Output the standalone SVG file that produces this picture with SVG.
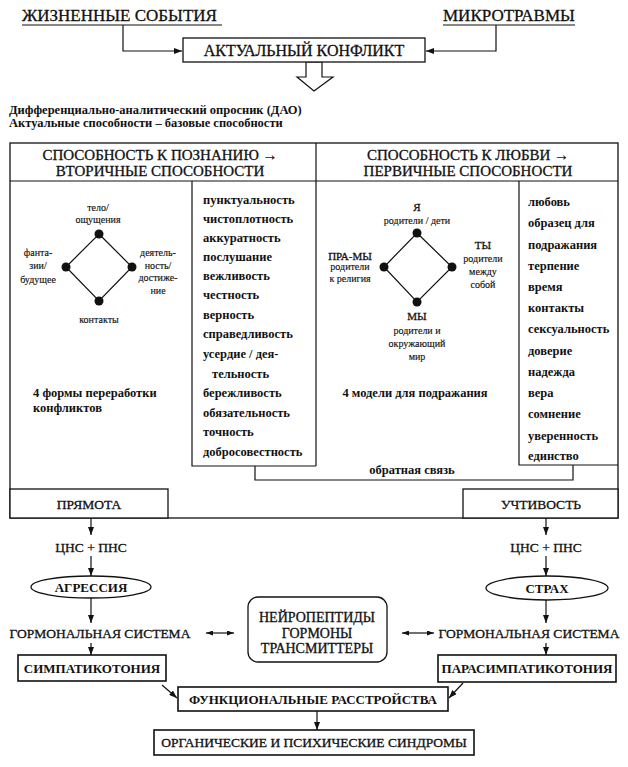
<svg xmlns="http://www.w3.org/2000/svg" width="628" height="767" viewBox="0 0 628 767" font-family="'Liberation Serif', 'DejaVu Serif', 'Times New Roman', serif">
<defs>
<style>
text{font-family:'Liberation Serif','DejaVu Serif','Times New Roman',serif;fill:#111;stroke:#111;stroke-width:0.3}
.c{text-anchor:middle}
.b{font-weight:bold;stroke-width:0}
.s{font-size:10px;stroke-width:0.15}
.m{font-size:12.5px}
.L{font-size:13.5px}
.h{font-size:15px}
.box{fill:#fff;stroke:#111;stroke-width:1.3}
.ln{fill:none;stroke:#111;stroke-width:1.2}
.dot{fill:#111}
</style>
<marker id="ah" viewBox="0 0 8 6" refX="8" refY="3" markerWidth="8" markerHeight="6" markerUnits="userSpaceOnUse" orient="auto">
<path d="M0,0 L8,3 L0,6 z" fill="#111"/>
</marker>
<marker id="ahs" viewBox="0 0 7 5" refX="7" refY="2.5" markerWidth="7" markerHeight="5" markerUnits="userSpaceOnUse" orient="auto-start-reverse">
<path d="M0,0 L7,2.5 L0,5 z" fill="#111"/>
</marker>
</defs>
<rect width="628" height="767" fill="#fff"/>

<g id="connectors">
<polyline class="ln" points="123,25 123,51 182,51" marker-end="url(#ah)"/>
<polyline class="ln" points="496,25 496,51 426,51" marker-end="url(#ah)"/>
<polygon points="306,62 322,62 322,77 333,77 314,91 297,77 306,77" fill="#fff" stroke="#111" stroke-width="1.2"/>
<polyline class="ln" points="255,466 255,480 573,480 573,465"/>
<line class="ln" x1="91" y1="518" x2="91" y2="535" marker-end="url(#ah)"/>
<line class="ln" x1="91" y1="556" x2="91" y2="576" marker-end="url(#ah)"/>
<line class="ln" x1="91" y1="598" x2="91" y2="623" marker-end="url(#ah)"/>
<line class="ln" x1="91" y1="643" x2="91" y2="655" marker-end="url(#ah)"/>
<line class="ln" x1="546" y1="518" x2="546" y2="535" marker-end="url(#ah)"/>
<line class="ln" x1="546" y1="556" x2="546" y2="576" marker-end="url(#ah)"/>
<line class="ln" x1="546" y1="600" x2="546" y2="623" marker-end="url(#ah)"/>
<line class="ln" x1="546" y1="643" x2="546" y2="655" marker-end="url(#ah)"/>
<line class="ln" x1="206" y1="633" x2="234" y2="633" marker-start="url(#ahs)" marker-end="url(#ahs)"/>
<line class="ln" x1="402" y1="633" x2="434" y2="633" marker-start="url(#ahs)" marker-end="url(#ahs)"/>
<line class="ln" x1="162" y1="685" x2="177" y2="698" marker-end="url(#ah)"/>
<line class="ln" x1="463" y1="683" x2="449" y2="698" marker-end="url(#ah)"/>
<line class="ln" x1="317" y1="711" x2="317" y2="730" marker-end="url(#ah)"/>
</g>

<g id="life-events">
<text x="22" y="21" style="font-size:17px">ЖИЗНЕННЫЕ СОБЫТИЯ</text>
<line class="ln" x1="22" y1="25" x2="222" y2="25"/>
</g>
<g id="microtraumas">
<text x="443" y="21" style="font-size:17px">МИКРОТРАВМЫ</text>
<line class="ln" x1="443" y1="25" x2="575" y2="25"/>
</g>
<g id="actual-conflict">
<rect class="box" x="183" y="38" width="242" height="24"/>
<text class="c" x="304" y="56" style="font-size:16px">АКТУАЛЬНЫЙ КОНФЛИКТ</text>
</g>
<g id="dao">
<text class="b" x="9" y="114" style="font-size:12.5px">Дифференциально-аналитический опросник (ДАО)</text>
<text class="b" x="9" y="127" style="font-size:12.5px">Актуальные способности – базовые способности</text>
</g>

<g id="frame">
<rect x="10" y="143" width="608" height="375" fill="none" stroke="#111" stroke-width="1.3"/>
<line class="ln" x1="10" y1="181" x2="618" y2="181"/>
<line class="ln" x1="316" y1="143" x2="316" y2="466"/>
</g>

<g id="cognition">
<text class="c h" x="160" y="160">СПОСОБНОСТЬ К ПОЗНАНИЮ →</text>
<text class="c h" x="160" y="176">ВТОРИЧНЫЕ СПОСОБНОСТИ</text>
<g id="diamond-left">
<polygon class="ln" points="99,234 132,267 99,301 66,267"/>
<circle class="dot" cx="99" cy="234" r="4.5"/>
<circle class="dot" cx="132" cy="267" r="4.5"/>
<circle class="dot" cx="99" cy="301" r="4.5"/>
<circle class="dot" cx="66" cy="267" r="4.5"/>
<text class="c s" x="98" y="211">тело/</text>
<text class="c s" x="98" y="223">ощущения</text>
<text class="c s" x="38" y="256">фанта-</text>
<text class="c s" x="38" y="269">зии/</text>
<text class="c s" x="38" y="283">будущее</text>
<text class="c s" x="158" y="256">деятель-</text>
<text class="c s" x="158" y="269">ность/</text>
<text class="c s" x="158" y="281">достиже-</text>
<text class="c s" x="158" y="294">ние</text>
<text class="c s" x="99" y="323">контакты</text>
</g>
<text class="b m" x="33" y="397">4 формы переработки</text>
<text class="b m" x="33" y="412">конфликтов</text>
</g>

<g id="secondary-list">
<polyline class="ln" points="192,181 192,466 316,466"/>
<text class="b m" x="203" y="204">пунктуальность</text>
<text class="b m" x="203" y="223">чистоплотность</text>
<text class="b m" x="203" y="242">аккуратность</text>
<text class="b m" x="203" y="261">послушание</text>
<text class="b m" x="203" y="280">вежливость</text>
<text class="b m" x="203" y="299">честность</text>
<text class="b m" x="203" y="319">верность</text>
<text class="b m" x="203" y="338">справедливость</text>
<text class="b m" x="203" y="358">усердие / дея-</text>
<text class="b m" x="212" y="378">тельность</text>
<text class="b m" x="203" y="397">бережливость</text>
<text class="b m" x="203" y="417">обязательность</text>
<text class="b m" x="203" y="436">точность</text>
<text class="b m" x="203" y="456">добросовестность</text>
</g>

<g id="love">
<text class="c h" x="468" y="160">СПОСОБНОСТЬ К ЛЮБВИ →</text>
<text class="c h" x="468" y="176">ПЕРВИЧНЫЕ СПОСОБНОСТИ</text>
<g id="diamond-right">
<polygon class="ln" points="417,233 452,267 417,302 384,267"/>
<circle class="dot" cx="417" cy="233" r="4.5"/>
<circle class="dot" cx="452" cy="267" r="4.5"/>
<circle class="dot" cx="417" cy="302" r="4.5"/>
<circle class="dot" cx="384" cy="267" r="4.5"/>
<text class="c" x="417" y="211" style="font-size:11px">Я</text>
<text class="c s" x="417" y="224">родители / дети</text>
<text class="c" x="350" y="260" style="font-size:11px">ПРА-МЫ</text>
<text class="c s" x="350" y="270">родители</text>
<text class="c s" x="350" y="282">к религия</text>
<text class="c" x="483" y="249" style="font-size:11px">ТЫ</text>
<text class="c s" x="483" y="262">родители</text>
<text class="c s" x="483" y="275">между</text>
<text class="c s" x="483" y="288">собой</text>
<text class="c" x="417" y="320" style="font-size:11px">МЫ</text>
<text class="c s" x="417" y="334">родители и</text>
<text class="c s" x="417" y="347">окружающий</text>
<text class="c s" x="417" y="360">мир</text>
</g>
<text class="b m c" x="415" y="397">4 модели для подражания</text>
<text class="b m c" x="412" y="474">обратная связь</text>
</g>

<g id="primary-list">
<polyline class="ln" points="519,181 519,465 618,465"/>
<text class="b m" x="528" y="206">любовь</text>
<text class="b m" x="528" y="227">образец для</text>
<text class="b m" x="528" y="249">подражания</text>
<text class="b m" x="528" y="270">терпение</text>
<text class="b m" x="528" y="291">время</text>
<text class="b m" x="528" y="312">контакты</text>
<text class="b m" x="528" y="333">сексуальность</text>
<text class="b m" x="528" y="355">доверие</text>
<text class="b m" x="528" y="376">надежда</text>
<text class="b m" x="528" y="397">вера</text>
<text class="b m" x="528" y="418">сомнение</text>
<text class="b m" x="528" y="440">уверенность</text>
<text class="b m" x="528" y="460">единство</text>
</g>

<g id="directness">
<rect class="box" x="10" y="489" width="158" height="29"/>
<text class="c L" x="89" y="509">ПРЯМОТА</text>
</g>
<g id="politeness">
<rect class="box" x="463" y="489" width="155" height="29"/>
<text class="c L" x="541" y="509">УЧТИВОСТЬ</text>
</g>

<g id="cns-left"><text class="c L" x="91" y="552">ЦНС + ПНС</text></g>
<g id="cns-right"><text class="c L" x="546" y="552">ЦНС + ПНС</text></g>
<g id="aggression">
<ellipse class="box" cx="91" cy="587" rx="60" ry="11"/>
<text class="c b" x="91" y="592" style="font-size:13px">АГРЕССИЯ</text>
</g>
<g id="fear">
<ellipse class="box" cx="547" cy="588" rx="61" ry="12"/>
<text class="c b" x="547" y="593" style="font-size:13px">СТРАХ</text>
</g>
<g id="neuropeptides">
<rect class="box" x="248" y="597" width="139" height="65" rx="10"/>
<text class="c" x="317" y="622" style="font-size:14px">НЕЙРОПЕПТИДЫ</text>
<text class="c" x="317" y="638" style="font-size:14px">ГОРМОНЫ</text>
<text class="c" x="317" y="653" style="font-size:14px">ТРАНСМИТТЕРЫ</text>
</g>
<g id="hormonal-left"><text class="c L" x="100" y="638">ГОРМОНАЛЬНАЯ СИСТЕМА</text></g>
<g id="hormonal-right"><text class="c L" x="529" y="638">ГОРМОНАЛЬНАЯ СИСТЕМА</text></g>
<g id="sympathicotonia">
<rect class="box" x="18" y="655" width="148" height="26" style="stroke-width:1.6"/>
<text class="c b" x="92" y="673" style="font-size:13px">СИМПАТИКОТОНИЯ</text>
</g>
<g id="parasympathicotonia">
<rect class="box" x="438" y="655" width="178" height="27" style="stroke-width:1.6"/>
<text class="c b" x="527" y="673" style="font-size:13px">ПАРАСИМПАТИКОТОНИЯ</text>
</g>
<g id="functional">
<rect class="box" x="178" y="687" width="270" height="24" style="stroke-width:1.6"/>
<text class="c b" x="313" y="704" style="font-size:13px">ФУНКЦИОНАЛЬНЫЕ РАССТРОЙСТВА</text>
</g>
<g id="syndromes">
<rect class="box" x="154" y="730" width="320" height="25" style="stroke-width:1.6"/>
<text class="c" x="314" y="747" style="font-size:13.5px">ОРГАНИЧЕСКИЕ И ПСИХИЧЕСКИЕ СИНДРОМЫ</text>
</g>
</svg>
